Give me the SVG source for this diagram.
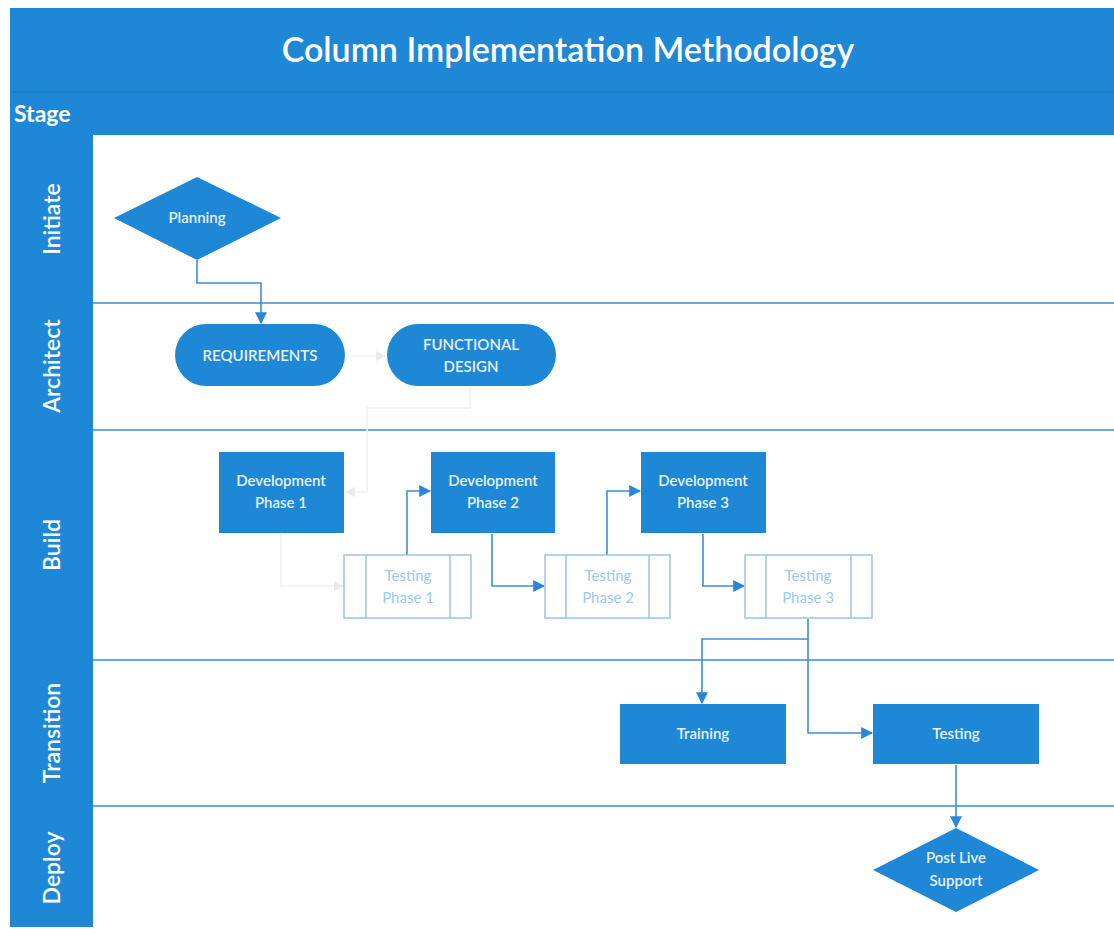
<svg xmlns="http://www.w3.org/2000/svg" width="1114" height="929" viewBox="0 0 1114 929">
<defs>
<style>
.band{fill:#1f88d6}
.lane{stroke:#6fa6de;stroke-width:2;fill:none}
.lbl{font-family:Lato,"Open Sans",sans-serif;fill:#ffffff;font-size:23px;font-weight:600;text-anchor:middle}
.node{fill:#1f88d6}
.nt{font-family:Lato,"Open Sans",sans-serif;fill:#e8f2fb;font-size:15px;font-weight:600;text-anchor:middle}
.tb{fill:#ffffff;stroke:#9cc4ec;stroke-width:1.5}
.tt{font-family:Lato,"Open Sans",sans-serif;fill:#9cc8f0;font-size:15px;text-anchor:middle}
.con{stroke:#3d8fdc;stroke-width:1.6;fill:none}
.faint{stroke:#eef0f3;stroke-width:1.6;fill:none}
</style>
<marker id="ah" viewBox="0 0 10 10" refX="9" refY="5" markerWidth="12" markerHeight="12" orient="auto" markerUnits="userSpaceOnUse">
<path d="M0,0 L10,5 L0,10 z" fill="#2a86d8"/>
</marker>
<marker id="ahf" viewBox="0 0 10 10" refX="9" refY="5" markerWidth="10" markerHeight="10" orient="auto" markerUnits="userSpaceOnUse">
<path d="M0,0 L10,5 L0,10 z" fill="#e8ebee"/>
</marker>
</defs>
<rect width="1114" height="929" fill="#ffffff"/>
<g id="frame">
<rect class="band" x="10" y="8" width="1104" height="127"/>
<line x1="10" y1="92" x2="1114" y2="92" stroke="#1b7fcb" stroke-width="2"/>
<rect class="band" x="10" y="135" width="83" height="792"/>
<rect x="93" y="135" width="1021" height="792" fill="#ffffff"/>
<text x="568" y="62" font-family="Lato,'Open Sans',sans-serif" font-size="34" font-weight="600" fill="#ffffff" text-anchor="middle">Column Implementation Methodology</text>
<text x="14" y="122" font-family="Lato,'Open Sans',sans-serif" font-size="23" font-weight="bold" fill="#ffffff">Stage</text>
<line class="lane" x1="93" y1="303" x2="1114" y2="303"/>
<line class="lane" x1="93" y1="430" x2="1114" y2="430"/>
<line class="lane" x1="93" y1="660" x2="1114" y2="660"/>
<line class="lane" x1="93" y1="806" x2="1114" y2="806"/>
<text class="lbl" transform="translate(60,219) rotate(-90)">Initiate</text>
<text class="lbl" transform="translate(60,366) rotate(-90)">Architect</text>
<text class="lbl" transform="translate(60,545) rotate(-90)">Build</text>
<text class="lbl" transform="translate(60,733) rotate(-90)">Transition</text>
<text class="lbl" transform="translate(60,868) rotate(-90)">Deploy</text>
</g>
<g id="connectors">
<path class="faint" d="M347,356 L385,356" marker-end="url(#ahf)"/>
<path class="faint" d="M470,387 L470,408 L367,408 L367,492 L346,492" marker-end="url(#ahf)"/>
<path class="faint" d="M281,534 L281,586 L343,586" marker-end="url(#ahf)"/>
<path class="con" d="M197,260 L197,283 L261,283 L261,323" marker-end="url(#ah)"/>
<path class="con" d="M407,555 L407,491 L430,491" marker-end="url(#ah)"/>
<path class="con" d="M492,534 L492,586 L544,586" marker-end="url(#ah)"/>
<path class="con" d="M607,555 L607,491 L640,491" marker-end="url(#ah)"/>
<path class="con" d="M703,534 L703,586 L744,586" marker-end="url(#ah)"/>
<path class="con" d="M808,619 L808,639 L702,639 L702,703" marker-end="url(#ah)"/>
<path class="con" d="M808,639 L808,733 L872,733" marker-end="url(#ah)"/>
<path class="con" d="M956,765 L956,827" marker-end="url(#ah)"/>
</g>
<g id="planning">
<polygon class="node" points="197,177 281,218 197,260 114,218"/>
<text class="nt" x="197" y="223">Planning</text>
</g>
<g id="requirements">
<rect class="node" x="175" y="324" width="170" height="62" rx="31"/>
<text class="nt" x="260" y="361">REQUIREMENTS</text>
</g>
<g id="functional-design">
<rect class="node" x="387" y="324" width="169" height="62" rx="31"/>
<text class="nt" x="471" y="350">FUNCTIONAL</text>
<text class="nt" x="471" y="372">DESIGN</text>
</g>
<g id="dev1">
<rect class="node" x="219" y="452" width="125" height="81"/>
<text class="nt" x="281" y="486">Development</text>
<text class="nt" x="281" y="508">Phase 1</text>
</g>
<g id="dev2">
<rect class="node" x="431" y="452" width="124" height="81"/>
<text class="nt" x="493" y="486">Development</text>
<text class="nt" x="493" y="508">Phase 2</text>
</g>
<g id="dev3">
<rect class="node" x="641" y="452" width="125" height="81"/>
<text class="nt" x="703" y="486">Development</text>
<text class="nt" x="703" y="508">Phase 3</text>
</g>
<g id="test1">
<rect class="tb" x="344" y="555" width="127" height="63"/>
<line class="tb" x1="366" y1="555" x2="366" y2="618"/>
<line class="tb" x1="450" y1="555" x2="450" y2="618"/>
<text class="tt" x="408" y="581">Testing</text>
<text class="tt" x="408" y="603">Phase 1</text>
</g>
<g id="test2">
<rect class="tb" x="545" y="555" width="125" height="63"/>
<line class="tb" x1="566" y1="555" x2="566" y2="618"/>
<line class="tb" x1="649" y1="555" x2="649" y2="618"/>
<text class="tt" x="608" y="581">Testing</text>
<text class="tt" x="608" y="603">Phase 2</text>
</g>
<g id="test3">
<rect class="tb" x="745" y="555" width="127" height="63"/>
<line class="tb" x1="766" y1="555" x2="766" y2="618"/>
<line class="tb" x1="851" y1="555" x2="851" y2="618"/>
<text class="tt" x="808" y="581">Testing</text>
<text class="tt" x="808" y="603">Phase 3</text>
</g>
<g id="training">
<rect class="node" x="620" y="704" width="166" height="60"/>
<text class="nt" x="703" y="739">Training</text>
</g>
<g id="testing">
<rect class="node" x="873" y="704" width="166" height="60"/>
<text class="nt" x="956" y="739">Testing</text>
</g>
<g id="post-live-support">
<polygon class="node" points="956,828 1039,870 956,912 873,870"/>
<text class="nt" x="956" y="863">Post Live</text>
<text class="nt" x="956" y="886">Support</text>
</g>
</svg>
